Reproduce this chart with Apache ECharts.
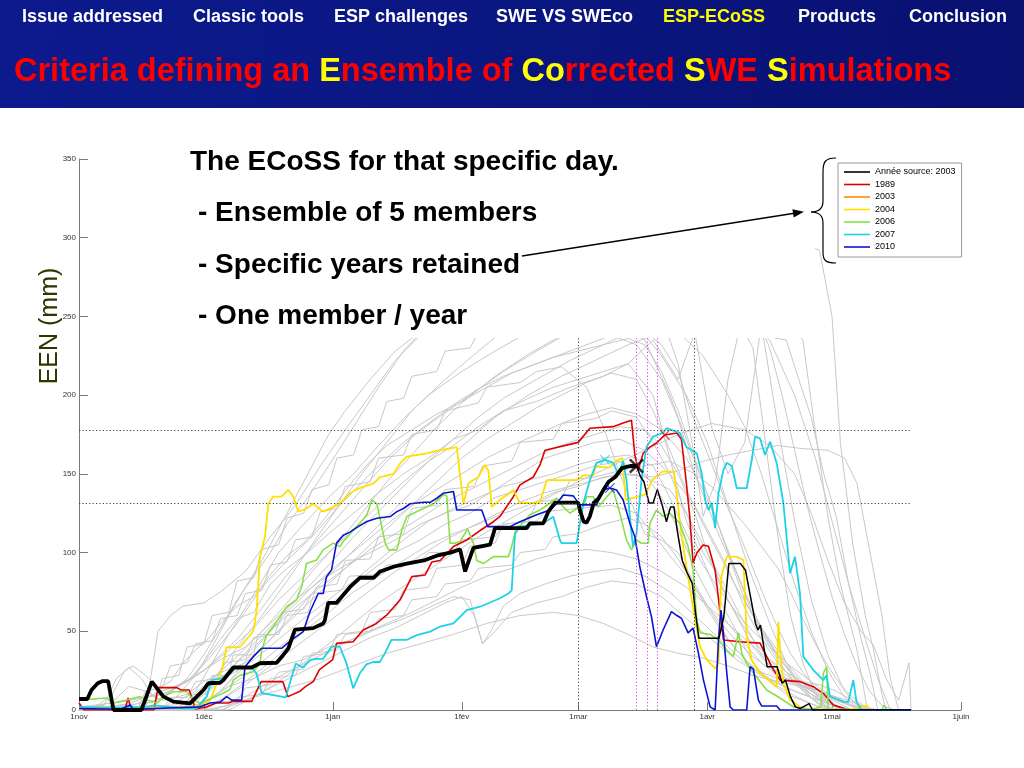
<!DOCTYPE html>
<html>
<head>
<meta charset="utf-8">
<script src="https://cdn.jsdelivr.net/npm/echarts@6/dist/echarts.min.js"></script>
<style>html,body{margin:0;padding:0;background:#fff;}#c{width:1024px;height:768px;}</style>
</head>
<body>
<div id="c"></div>
<script>
// ---------- DATA ----------
const monthLabels = ['1nov','1déc','1jan','1fév','1mar','1avr','1mai','1juin'];
const monthDays = [0,30,61,92,120,151,181,212];   // day index from 1 Nov
const yTicks = [0,50,100,150,200,250,300,350];
const legendNames = ['Année source: 2003','1989','2003','2004','2006','2007','2010'];
const thresholdHigh = 178;
const thresholdLow = 131.5;
const blackVLines = [120,148];
const magentaVLines = [134,136.5,139];

// source year 2003 (thick until forecast day, thin after)
const source2003Before = [[0,7],[2,7],[3,12.7],[4.5,17],[5.7,18.4],[7,18.4],[8.3,0],[15,0],[17.5,18],[20.3,8.5],[22.7,5.3],[26.7,4.2],[28.3,8.5],[29.9,12.7],[31.1,17],[33.9,17.3],[34.7,19],[35.9,23],[37.1,27],[41.5,27],[43.5,29.7],[47.5,30],[49.1,35],[50.3,39],[51.9,51],[56.3,52],[58.7,55],[59.1,57],[59.9,68],[61.9,68],[63.5,73],[65.1,78],[67.5,84],[70.8,84],[72.4,88],[75.6,91],[78.8,93],[82.9,95],[86,98],[89.2,100],[91.6,102],[92.8,88],[94.8,103],[98.8,105],[100,115.5],[107.6,115.5],[108.4,118.6],[111.6,118.6],[112.8,126],[114.4,131.7],[120,131.7],[120.4,127],[121.3,119.6],[122,119],[122.8,123],[123.7,131.5],[124.9,134.5],[126.1,140],[127.3,145],[128.9,148],[130.5,153.7],[132.5,155],[134,155]];
const source2003After = [[134,155],[135,148],[135.8,145],[137,131.5],[138,131.5],[139,140],[140.2,130],[141.2,119.6],[142.2,129],[143,129],[143.8,114],[145,95],[146.2,87],[147.4,80.6],[148.2,61.5],[149,45.5],[153.8,45.5],[155,59.4],[156.2,93],[159,93],[160.2,88.8],[161.4,72],[162.6,55],[163.2,50.8],[163.8,54],[164.6,40],[165.4,27.5],[167.8,27.5],[169,17],[169.8,19],[171,8.5],[172.2,2],[173.4,1],[175.5,4],[176.3,0],[200,0]];
const y1989 = [[0,4.4],[1.2,0],[11,0],[11.8,7.6],[12.6,0],[18,0],[19,14.2],[23.5,14.2],[24.5,12.7],[26.5,12.7],[28,0.6],[30.7,2],[33,4.4],[35.9,4.4],[37,5.5],[41.5,5.5],[43.8,18],[49,18],[50.2,8.5],[53,11.7],[54.5,15],[56.3,18],[57.8,25.6],[61,32],[61.9,42.3],[65.9,43.4],[68.3,50.8],[71.5,55],[74,60.4],[77.2,70],[80,84.7],[83.2,85.8],[84.8,94],[86.8,95],[90,103.8],[93.2,108],[96.4,114],[99.6,119.6],[101.2,123],[104.4,135.5],[106,143],[109.2,148],[110.8,155.7],[112,165],[120,170],[122.8,179],[128.4,180],[130.8,182.3],[132.8,184],[133.6,162],[134.4,152.5],[135.6,163],[137.2,167],[138.8,169.6],[140.8,174.7],[143.7,176],[144.8,172],[146,144],[146.8,122.8],[147.6,93.4],[148.5,99.7],[150,104.8],[151.3,104],[152.9,89],[154.1,61.6],[154.9,44.5],[158.9,43.4],[163.7,42.5],[166.5,27.5],[168.5,19],[173.3,18],[176.5,14.8],[178.9,10.6],[181.3,3.2],[184.5,0.4],[186,0],[200,0]];
const y2003 = [];
const y2004 = [[0,1],[6,2],[12,1],[20,1.5],[27.5,2],[31.5,6],[34.3,25],[35.5,40],[38.7,40],[41.9,50],[42.7,63.5],[43.5,97.5],[44.7,110],[45.5,131],[46.7,135.6],[48.7,135.6],[50.3,139.8],[51.5,135.6],[52.7,126],[54.7,128],[56.3,131],[58.7,126],[61.1,129],[62.7,131],[65.1,137.7],[67.5,141],[70.8,144],[72.4,148],[75.6,150],[77.2,156.8],[78.8,161],[83.6,163],[86.8,165],[90.8,167],[92.4,131],[93.6,144],[96,148],[97.6,155.7],[98.4,152],[99.2,129],[101.2,133.5],[102.8,136.6],[104.4,139.8],[105.6,133.5],[106,131.5],[110.8,131.5],[112.4,146],[119.6,146],[121.2,149],[123.6,149],[124.2,154.6],[127.4,154],[129.4,158.8],[130.6,160],[131.4,133.4],[136.2,137],[137.8,146],[140.2,151.4],[143,151.4],[143.8,133.4],[145,108],[146,91],[147,75],[148.1,57],[149.3,40],[150.9,31.8],[152.9,26.4],[153.7,30],[154.4,85],[155.7,97.4],[158,97.4],[159.7,95.3],[160.5,46.6],[161.7,31.8],[163.7,23.5],[165.3,20],[167.7,14.8],[168.1,56],[168.5,38],[169.3,17],[170.9,6.3],[173.3,2],[175.7,0.4],[186,0.4],[187.7,2],[189.3,3],[190.1,0],[200,0]];
const y2006 = [[0,6.3],[6.6,7.6],[8.2,4.4],[11.4,6.3],[14.7,8.5],[16.5,6.3],[18.7,4.4],[21,9.5],[22.7,11.6],[25.9,11.6],[27.5,6.3],[29.1,4.4],[31.5,7],[34.7,10.8],[36.3,13],[37.1,19],[38.7,22],[41.9,24.3],[43.5,29.6],[43.9,38],[45.1,47.6],[46.7,53],[48.3,59.3],[49.9,65.6],[52.3,70],[53.5,78.3],[54.7,93],[57.1,95.3],[58.7,101.7],[61.1,106],[62.7,103.8],[63.5,107],[66,114.4],[67.5,118.6],[69.2,124],[70.4,133.5],[71.6,131],[73.6,106],[74.4,101.7],[76.4,101.7],[77.6,114.4],[78.8,122.9],[82,127],[85.2,131],[87.6,136.7],[88.4,136],[89.2,106],[90.4,106],[91.6,107],[93.4,115],[94.8,106],[95.6,95],[97.2,93],[99.6,97.4],[103.2,97.4],[104,104],[105.2,116.5],[106,117],[108.4,124],[110.8,127],[113.2,131.5],[114.8,134.6],[116.4,129],[118,125],[119.6,128],[121.2,129],[122,135.5],[123.6,135.5],[124.8,129],[127.6,137.7],[128.4,140],[130,125],[130.8,116.5],[131.6,108],[132.8,101.7],[134,108],[135.2,105.9],[136.8,105.9],[137.2,118.6],[138.8,127],[140.4,123],[142,125],[144.4,118.6],[146.4,103.8],[147.6,89],[148.5,57],[149.3,49],[151.7,48],[153.7,44.5],[155.7,38],[157.3,34],[158.5,49],[159.3,36],[160.5,29.6],[162.1,23.5],[165.3,12.7],[168.5,7.6],[171.7,2],[175.7,0.3],[178.3,2],[178.9,23.3],[179.7,27.5],[180.1,0],[193,0],[193.5,3],[194.2,0],[200,0]];
const y2007 = [[0,2],[7,1.5],[16.3,2],[17.9,3],[21.9,2],[25,1],[28.3,1],[29.9,6.3],[30.7,8.5],[31.9,19],[33.9,20],[36.3,23],[37.9,27.5],[41.5,27],[42.7,23],[43.9,10.8],[44.3,10],[49.7,8],[50.9,19],[52.1,29.6],[53.7,27],[55.7,31.8],[56.9,32.5],[58.7,32.5],[60.7,40.2],[62.7,40.2],[64.3,29.6],[65.9,13.8],[67.5,23.3],[69.1,29],[70.7,30.5],[72.3,30.5],[73.5,36],[75.1,44.5],[78.7,44.5],[81.2,47.6],[84.4,49.8],[86.8,53],[90,55],[93.2,63.5],[96.4,65.6],[101.2,71],[103.2,74],[104,76],[104.8,112],[106,116.5],[111.6,118.6],[114,122.8],[115.6,108],[116,106],[119.6,106],[120,112],[121.2,131.3],[122.8,146],[124.4,157],[126.4,159],[128.4,157],[129.6,150],[130.8,158],[131.6,146],[132.8,112],[133.2,103.8],[134,112],[135.2,146],[136.4,167],[138,173.6],[140.4,176],[141.2,179],[144.4,176],[146,167],[148.5,163],[149.7,150],[150.5,133.4],[151.3,127],[152.1,131.5],[152.9,115.5],[153.7,137.7],[154.9,152.5],[155.7,157],[156.9,155],[158.1,141],[160.5,141],[161.7,158.8],[162.5,173.6],[163.7,172.5],[164.9,162],[166.1,170.5],[167.7,156.8],[169.3,131.5],[170.9,86.9],[172.1,97.4],[173.3,74.1],[174.1,33.9],[176.5,25.4],[178.9,19],[179.7,22],[180.5,8.5],[183.7,5.3],[184.9,5],[186.1,19],[186.9,5],[188.1,0],[200,0]];
const y2010 = [[0,1],[10,0.5],[12.3,3.2],[13,0.5],[29.1,2],[31.5,4.4],[33.9,5],[35.5,8.5],[36.7,6.3],[39.1,6.3],[39.9,27.5],[41.9,33.9],[43.9,39.2],[48.7,39.2],[51.1,44.5],[53.9,49.8],[55.5,62.4],[57.5,74],[58.7,74],[59.5,84.7],[60.7,89],[61.9,106],[63.5,111],[65.1,113],[67.1,116.5],[69.2,119.7],[71.6,121.8],[74.8,122.9],[76.4,126],[78,128],[79.6,131],[82.8,132],[84.5,132],[86,134.5],[87.6,137.7],[90,138.8],[90.8,127],[94,127],[96.8,127],[98.2,116.5],[103.6,116.5],[106,119.6],[110,124],[113.2,127],[114.8,131],[116.4,136.6],[118.8,136],[120.4,130.3],[124.4,130.3],[126,139.8],[127.6,141],[129.2,139.8],[130.8,133.4],[132.4,118.6],[133.6,110],[134.8,91],[136.4,72],[137.6,59.3],[138.8,40.2],[140.4,50.8],[142.4,62.5],[143.7,60],[144.8,58.3],[146.4,49],[147.6,52],[148.9,36],[150.1,19],[151.7,2],[152.9,0],[153.7,44.5],[154.3,63.5],[154.9,49],[155.7,23.5],[156.5,2],[157.3,0],[160.5,0],[161.3,27.5],[162.1,26],[163.3,6.3],[164.1,2.5],[167.7,2.5],[168.5,0],[200,0]];

// historical-year ensemble traces (grey)
const greyTraces = [
 [[0,0],[6,3],[9,20],[12,27],[15,20],[18,8],[22,12],[27,20],[32,35],[38,55],[44,78],[50,95],[56,110],[62,128],[70,150],[78,170],[86,185],[94,200],[102,215],[110,228],[118,240],[126,250],[134,245],[140,225],[146,200],[151,170],[156,130],[161,90],[166,55],[170,30],[174,12],[178,3],[182,0],[200,0]],
 [[0,0],[16,0],[19,50],[22,60],[25,66],[30,68],[34,75],[40,88],[46,110],[52,130],[58,155],[64,178],[70,200],[76,222],[82,238],[90,250],[98,258],[106,262],[116,266],[126,270],[136,268],[144,262],[152,255],[160,250],[166,235],[172,200],[177,160],[181,120],[185,80],[189,45],[192,20],[195,0],[200,0]],
 [[0,2],[10,5],[20,10],[26,18],[30,30],[34,45],[38,58],[42,62],[46,80],[50,90],[55,100],[60,112],[66,125],[72,138],[78,150],[84,160],[90,172],[96,178],[102,190],[110,196],[118,205],[126,212],[132,220],[138,200],[142,160],[146,120],[150,95],[154,70],[158,50],[162,30],[166,18],[170,10],[176,4],[180,0],[200,0]],
 [[0,0],[24,0],[30,5],[36,15],[42,20],[48,28],[54,32],[60,40],[66,45],[72,52],[78,58],[84,65],[90,72],[94,70],[97,42],[100,50],[104,62],[110,68],[116,72],[122,78],[128,82],[134,80],[140,72],[146,58],[152,45],[158,32],[164,22],[170,14],[176,8],[182,2],[186,0],[200,0]],
 [[0,0],[30,0],[36,3],[42,8],[50,14],[58,20],[66,28],[74,36],[82,42],[90,48],[98,55],[106,60],[114,62],[120,60],[126,55],[132,48],[138,40],[144,36],[150,33],[156,28],[162,22],[168,18],[174,15],[180,10],[186,5],[190,0],[200,0]],
 [[0,0],[22,3],[28,12],[32,30],[36,48],[40,65],[44,82],[48,100],[54,118],[60,135],[66,150],[72,168],[78,185],[84,200],[92,215],[100,228],[108,240],[118,250],[128,248],[136,235],[142,200],[147,165],[152,130],[156,100],[160,75],[164,52],[168,35],[172,20],[176,8],[180,0],[200,0]],
 [[0,0],[28,0],[32,8],[36,15],[40,22],[46,35],[52,48],[58,62],[64,75],[70,88],[76,100],[82,108],[88,118],[94,125],[100,135],[106,140],[112,145],[118,150],[124,155],[130,158],[136,150],[140,135],[144,115],[148,90],[152,70],[156,55],[160,42],[164,30],[168,22],[172,16],[176,10],[180,5],[184,0],[200,0]],
 [[0,0],[26,2],[32,18],[38,40],[44,60],[50,82],[56,105],[62,128],[68,150],[74,170],[80,190],[88,210],[96,228],[104,245],[114,260],[124,272],[134,282],[144,290],[154,296],[164,300],[172,298],[178,292],[181,250],[183,170],[186,105],[189,60],[191,38],[193,10],[194,0],[200,0]],
 [[0,0],[30,0],[36,10],[42,22],[48,35],[54,50],[60,62],[66,75],[72,85],[78,95],[84,105],[90,112],[96,118],[102,125],[108,130],[114,138],[120,142],[126,148],[132,150],[138,148],[144,152],[150,158],[156,162],[162,165],[168,168],[174,166],[180,165],[184,160],[187,144],[190,102],[193,60],[195,20],[197,0],[200,0]],
 [[0,0],[20,0],[26,6],[32,20],[38,34],[44,50],[50,68],[56,88],[62,105],[68,125],[74,145],[80,162],[86,180],[92,195],[100,212],[108,226],[116,238],[124,246],[132,252],[140,250],[148,245],[156,240],[164,238],[170,235],[173,210],[176,186],[179,150],[182,123],[185,80],[188,45],[190,25],[192,0],[200,0]],
 [[0,0],[18,5],[24,15],[30,25],[36,38],[42,52],[48,70],[54,85],[60,100],[66,115],[72,130],[78,145],[84,158],[90,168],[96,180],[102,190],[108,198],[114,205],[120,210],[126,215],[132,220],[138,235],[144,210],[148,240],[152,180],[156,150],[160,170],[164,245],[168,180],[172,120],[176,70],[180,35],[184,12],[188,0],[200,0]],
 [[0,0],[12,4],[18,10],[24,16],[28,22],[34,32],[40,40],[46,55],[52,70],[58,82],[64,92],[70,100],[76,108],[82,118],[88,125],[94,130],[100,140],[106,150],[112,160],[118,165],[124,170],[130,172],[136,165],[142,150],[148,130],[152,110],[156,90],[160,65],[164,45],[168,30],[172,18],[176,10],[180,4],[184,0],[200,0]],
 [[0,0],[26,0],[30,4],[34,12],[38,24],[42,38],[46,50],[52,65],[58,78],[64,90],[70,102],[76,112],[82,122],[88,132],[94,140],[100,148],[106,156],[112,164],[118,170],[124,175],[130,180],[136,178],[140,168],[144,150],[148,125],[151,100],[154,80],[158,60],[162,40],[166,28],[170,20],[174,15],[178,12],[182,8],[186,3],[190,0],[200,0]],
 [[0,0],[8,5],[12,15],[16,12],[20,6],[26,10],[30,18],[35,25],[40,30],[45,42],[50,55],[56,70],[62,85],[68,100],[74,115],[80,130],[86,145],[92,160],[98,172],[104,182],[110,192],[116,200],[122,208],[128,214],[134,210],[138,190],[142,165],[146,140],[150,118],[154,98],[158,78],[162,60],[166,45],[170,30],[174,18],[178,9],[182,3],[186,0],[200,0]],
 [[0,0],[32,0],[38,5],[44,15],[50,24],[56,32],[62,40],[68,48],[74,55],[80,62],[86,70],[92,78],[98,85],[104,90],[110,96],[116,100],[122,102],[128,100],[134,96],[140,88],[146,78],[152,64],[158,50],[164,36],[170,24],[176,14],[182,6],[188,0],[200,0]],
 [[0,0],[14,2],[20,8],[26,20],[30,35],[34,52],[38,70],[42,85],[46,100],[50,118],[55,135],[60,155],[66,180],[72,205],[78,228],[84,245],[90,252],[96,256],[104,258],[114,260],[124,262],[134,260],[140,250],[144,220],[148,160],[150,123],[153,145],[156,210],[159,245],[162,230],[165,170],[168,110],[171,60],[174,30],[177,10],[180,0],[200,0]],
 [[0,0],[24,0],[28,6],[32,14],[36,22],[40,28],[44,36],[48,45],[54,58],[60,70],[66,82],[72,95],[78,108],[84,120],[90,128],[96,135],[102,142],[108,146],[114,150],[120,156],[126,160],[132,162],[138,155],[142,135],[146,112],[150,92],[154,76],[158,62],[162,50],[166,40],[170,30],[174,22],[178,14],[182,7],[186,2],[190,0],[200,0]],
 [[0,0],[34,0],[40,6],[46,14],[52,22],[58,30],[64,38],[70,46],[76,52],[82,60],[88,68],[92,72],[95,60],[97,42],[99,50],[102,66],[106,74],[112,80],[118,85],[124,88],[130,90],[136,85],[142,75],[148,60],[154,45],[160,30],[166,20],[172,12],[178,6],[184,0],[200,0]],
 [[0,0],[20,0],[24,10],[28,22],[32,40],[36,60],[40,78],[44,95],[48,115],[52,135],[56,155],[60,175],[64,190],[70,210],[76,228],[82,240],[88,248],[94,252],[100,255],[110,258],[120,258],[130,258],[138,250],[144,240],[150,225],[156,200],[160,180],[164,150],[168,115],[172,80],[176,50],[180,25],[184,8],[188,0],[200,0]],
 [[0,0],[36,0],[42,8],[48,18],[54,30],[60,42],[66,55],[72,68],[80,82],[88,96],[96,110],[104,122],[112,134],[120,145],[128,155],[136,165],[144,175],[152,182],[160,178],[166,168],[172,150],[176,125],[180,95],[184,68],[188,50],[191,41],[194,20],[197,6],[199.5,30],[200,0]],
 [[0,0],[30,0],[34,6],[40,16],[46,28],[52,40],[58,52],[64,64],[70,76],[76,88],[82,98],[88,108],[94,116],[100,124],[106,132],[112,138],[118,142],[124,146],[130,150],[136,148],[142,140],[146,125],[150,105],[154,85],[158,65],[161,50],[164,35],[167,25],[170,20],[174,18],[178,16],[182,12],[186,6],[190,0],[200,0]],
 [[0,0],[10,0],[14,4],[18,10],[22,14],[26,18],[30,25],[34,35],[38,45],[42,58],[46,72],[50,86],[54,98],[58,110],[62,122],[66,134],[70,146],[74,158],[78,168],[82,178],[86,186],[90,194],[96,204],[102,212],[108,218],[114,224],[120,228],[126,232],[132,236],[136,232],[140,215],[144,190],[148,160],[152,130],[156,100],[160,75],[164,52],[168,34],[172,20],[176,10],[180,2],[184,0],[200,0]],
 [[0,0],[28,0],[34,12],[40,28],[46,45],[52,62],[58,80],[64,96],[70,112],[76,128],[82,144],[88,158],[94,172],[100,186],[108,200],[116,212],[124,222],[132,232],[140,240],[148,246],[156,250],[164,250],[170,245],[174,235],[176.5,186],[180,123],[183,80],[187,38],[189.5,0],[200,0]],
 [[0,0],[22,0],[26,5],[30,12],[34,20],[38,30],[42,40],[46,50],[50,62],[56,78],[62,92],[68,105],[74,118],[80,130],[86,140],[92,150],[98,160],[104,168],[110,175],[116,182],[122,188],[128,192],[134,188],[140,178],[146,160],[150,140],[154,115],[158,88],[162,60],[166,40],[170,24],[174,12],[178,4],[182,0],[200,0]],
 [[0,0],[25,0],[27,10],[31,10],[32,22],[36,22],[37,35],[42,35],[43,48],[48,48],[50,60],[55,62],[57,78],[62,80],[64,95],[70,96],[72,110],[78,112],[80,128],[86,130],[88,140],[95,142],[97,155],[104,158],[106,170],[114,172],[116,182],[124,185],[128,190],[134,186],[138,170],[142,150],[146,125],[150,100],[153,88],[156,70],[160,52],[164,38],[168,26],[172,18],[176,12],[180,6],[184,0],[200,0]],
 [[0,0],[20,0],[22,8],[26,8],[28,18],[33,20],[35,30],[40,32],[42,46],[47,48],[49,62],[54,64],[56,74],[63,76],[65,85],[72,86],[74,92],[82,94],[84,100],[90,100],[92,108],[100,110],[102,118],[110,120],[112,126],[120,128],[128,130],[134,125],[138,112],[142,98],[146,85],[150,70],[154,56],[158,44],[162,34],[166,26],[170,20],[174,15],[178,10],[182,5],[186,0],[200,0]],
 [[0,0],[14,0],[16,12],[20,14],[22,28],[26,30],[28,42],[32,44],[34,58],[38,60],[40,74],[44,76],[46,92],[50,94],[52,108],[56,110],[58,126],[62,128],[64,142],[70,145],[72,160],[78,162],[80,175],[86,178],[88,190],[96,195],[98,205],[106,208],[110,215],[116,218],[122,205],[126,180],[130,150],[133,130],[136,112],[140,108],[144,100],[148,80],[152,62],[156,45],[160,32],[164,22],[168,15],[172,9],[176,4],[180,0],[200,0]],
 [[0,0],[30,0],[33,5],[38,6],[40,14],[46,16],[48,24],[54,26],[56,36],[62,38],[64,48],[70,50],[72,58],[78,60],[80,70],[86,72],[88,80],[94,82],[96,90],[104,92],[106,100],[112,102],[114,110],[120,112],[126,118],[132,122],[136,118],[140,110],[144,96],[148,78],[152,60],[155,48],[158,38],[161,30],[164,24],[168,20],[172,17],[176,14],[180,10],[184,5],[188,0],[200,0]],
 [[0,0],[4,2],[8,10],[11,25],[13,28],[16,22],[19,14],[22,18],[25,30],[28,38],[31,45],[34,55],[38,66],[42,72],[46,86],[50,98],[54,106],[58,118],[62,132],[66,146],[70,158],[74,168],[80,178],[86,188],[92,196],[98,205],[104,214],[110,220],[116,226],[122,232],[128,238],[134,232],[140,210],[144,185],[148,150],[151,130],[154,110],[157,92],[160,70],[164,50],[168,34],[172,22],[176,12],[180,5],[184,0],[200,0]],
 [[0,0],[35,0],[38,8],[44,10],[46,20],[52,22],[54,34],[60,36],[62,48],[68,50],[70,62],[76,64],[78,76],[84,78],[86,90],[92,92],[94,104],[100,106],[102,118],[108,120],[110,132],[116,134],[118,146],[124,148],[130,152],[136,155],[142,158],[148,150],[152,142],[156,130],[160,118],[164,104],[168,90],[171,75],[174,58],[177,42],[180,28],[183,16],[186,8],[189,2],[192,0],[200,0]],
 [[0,0],[18,0],[20,20],[24,22],[26,40],[30,42],[32,60],[36,62],[38,82],[42,84],[44,102],[48,105],[50,122],[54,125],[56,140],[60,143],[62,160],[66,162],[68,178],[72,180],[74,196],[78,198],[80,212],[86,215],[88,228],[94,230],[96,240],[110,245],[124,250],[134,245],[140,232],[144,215],[147,190],[150,170],[153,150],[156,128],[159,110],[162,90],[165,70],[168,52],[171,36],[174,24],[177,14],[180,6],[184,0],[200,0]],
 [[0,0],[26,0],[30,10],[36,25],[42,42],[48,58],[54,75],[60,92],[66,110],[72,126],[78,142],[84,158],[90,172],[96,186],[102,198],[110,210],[118,222],[126,232],[134,242],[142,250],[150,256],[158,262],[162,255],[166,230],[169,200],[172,165],[175,130],[178,100],[181,72],[184,48],[187,28],[190,12],[193,3],[196,0],[200,0]]
];

// forecast-day markers (x) : [day, value]
const markSource = [[134,155]];
const mark1989 = [[140.8,174.7]];
const mark2007 = [[126.4,159]];
const mark2010 = [[127.6,141]];

// ---------- STYLE / TEXT ----------
const menuItems = [['Issue addressed',22,'#ffffff'],['Classic tools',193,'#ffffff'],['ESP challenges',334,'#ffffff'],['SWE VS SWEco',496,'#ffffff'],['ESP-ECoSS',663,'#ffff00'],['Products',798,'#ffffff'],['Conclusion',909,'#ffffff']];
const bullets = [['The ECoSS for that specific day.',190,162],['- Ensemble of 5 members',198,213],['- Specific years retained',198,265],['- One member / year',198,316]];
const colors = {src:'#000000', y1989:'#e00000', y2003:'#ff8c00', y2004:'#ffe000', y2006:'#88e04a', y2007:'#1cd2e6', y2010:'#0a14d2', grey:'#c8c8c8'};
const FONT = "'Liberation Sans', Arial, sans-serif";

const chart = echarts.init(document.getElementById('c'), null, {renderer:'canvas'});

const lineS = (name, data, color, width, z) => ({
  type:'line', name, data, symbol:'none', color, z: z||3,
  lineStyle:{color, width}, silent:true, animation:false
});
const dotted = [1.2,2.2];
const xPath = 'path://M0,1.1L1.1,0L5,3.9L8.9,0L10,1.1L6.1,5L10,8.9L8.9,10L5,6.1L1.1,10L0,8.9L3.9,5Z';
const xPathThin = 'path://M0,0.7L0.7,0L5,4.3L9.3,0L10,0.7L5.7,5L10,9.3L9.3,10L5,5.7L0.7,10L0,9.3L4.3,5Z';
const markS = (name, data, color, size, path, z) => ({
  type:'scatter', name, data, symbol:path, symbolSize:size, itemStyle:{color}, z: z||6, silent:true, animation:false
});

const series = [];
greyTraces.forEach((d,i) => series.push(lineS('hist'+i, d, colors.grey, 1, 2)));
series[0].markLine = {
  silent:true, symbol:['none','none'], label:{show:false}, animation:false,
  data: [
    ...blackVLines.map(v => ({xAxis:v, lineStyle:{color:'#444', type:dotted, width:1}})),
    ...magentaVLines.map(v => ({xAxis:v, lineStyle:{color:'#e040e0', type:dotted, width:1}})),
    [{coord:[0,thresholdHigh], lineStyle:{color:'#444', type:dotted, width:1}},{coord:[200,thresholdHigh]}],
    [{coord:[0,thresholdLow], lineStyle:{color:'#444', type:dotted, width:1}},{coord:[200,thresholdLow]}]
  ]
};
series.push(lineS('1989', y1989, colors.y1989, 1.6, 3));
series.push(lineS('2003', y2003, colors.y2003, 1.6, 3));
series.push(lineS('2004', y2004, colors.y2004, 1.8, 3));
series.push(lineS('2006', y2006, colors.y2006, 1.6, 3));
series.push(lineS('2007', y2007, colors.y2007, 1.8, 3));
series.push(lineS('2010', y2010, colors.y2010, 1.6, 3));
series.push(lineS('Année source: 2003', source2003Before, colors.src, 3.8, 4));
series.push(lineS('Année source: 2003', source2003After, colors.src, 1.5, 4));
series.push(markS('1989', mark1989, colors.y1989, 10, xPathThin));
series.push(markS('2007', mark2007, colors.y2007, 10, xPathThin));
series.push(markS('2010', mark2010, colors.y2010, 10, xPathThin));
series.push(markS('Année source: 2003', markSource, colors.src, 15, xPath, 7));

const braceStyle = {stroke:'#000', lineWidth:1.2, fill:null};
const graphics = [
  {type:'rect', shape:{x:0,y:0,width:1024,height:108}, z:0, silent:true,
   style:{fill:{type:'linear',x:0,y:0,x2:1,y2:1,colorStops:[{offset:0,color:'#0c1a8e'},{offset:0.5,color:'#0a1680'},{offset:1,color:'#081070'}]}}},
  // white panel behind the annotation text (hides the upper part of the plot)
  {type:'rect', shape:{x:90,y:128,width:725,height:210}, z:100, silent:true, style:{fill:'#ffffff'}},
  ...menuItems.map(m => ({type:'text', x:m[1], y:17, z:110, silent:true,
     style:{text:m[0], fill:m[2], font:"bold 18px "+FONT, textVerticalAlign:'middle'}})),
  {type:'text', x:14, y:72, z:110, silent:true, style:{
     text:'{r|Criteria defining an }{y|E}{r|nsemble of }{y|Co}{r|rrected }{y|S}{r|WE }{y|S}{r|imulations}',
     textVerticalAlign:'middle',
     rich:{r:{fill:'#ff0000', font:"bold 32.5px "+FONT}, y:{fill:'#ffff00', font:"bold 32.5px "+FONT}}}},
  ...bullets.map(b => ({type:'text', x:b[1], y:b[2], z:110, silent:true,
     style:{text:b[0], fill:'#000', font:"bold 28px "+FONT, textVerticalAlign:'middle'}})),
  {type:'text', x:50, y:326, rotation:Math.PI/2, z:110, silent:true,
   style:{text:'EEN (mm)', fill:'#333300', font:"25px "+FONT, textAlign:'center', textVerticalAlign:'middle'}},
  {type:'line', z:110, silent:true, shape:{x1:522,y1:256,x2:796,y2:213}, style:{stroke:'#000', lineWidth:1.3}},
  {type:'polygon', z:110, silent:true, shape:{points:[[804,211.7],[793.7,217.4],[792.4,209.2]]}, style:{fill:'#000'}},
  {type:'bezierCurve', z:110, silent:true, shape:{x1:836,y1:158,cpx1:825,cpy1:158,cpx2:823,cpy2:162,x2:823,y2:172}, style:braceStyle},
  {type:'line', z:110, silent:true, shape:{x1:823,y1:172,x2:823,y2:201}, style:braceStyle},
  {type:'bezierCurve', z:110, silent:true, shape:{x1:823,y1:201,cpx1:823,cpy1:208,cpx2:819,cpy2:212,x2:811,y2:212}, style:braceStyle},
  {type:'bezierCurve', z:110, silent:true, shape:{x1:811,y1:212,cpx1:819,cpy1:212,cpx2:823,cpy2:216,x2:823,y2:223}, style:braceStyle},
  {type:'line', z:110, silent:true, shape:{x1:823,y1:223,x2:823,y2:252}, style:braceStyle},
  {type:'bezierCurve', z:110, silent:true, shape:{x1:823,y1:252,cpx1:823,cpy1:260,cpx2:825,cpy2:263,x2:836,y2:263}, style:braceStyle}
];

chart.setOption({
  animation:false,
  backgroundColor:'#ffffff',
  textStyle:{fontFamily:FONT},
  grid:{left:79, right:63, top:159, bottom:58, containLabel:false},
  legend:{
    data:legendNames, orient:'vertical', left:838, top:163, icon:'rect',
    itemWidth:26, itemHeight:1.6, itemGap:2.5, selectedMode:false,
    padding:[4,6,5,6], borderColor:'#9a9a9a', borderWidth:1, backgroundColor:'#fff',
    textStyle:{fontSize:9, color:'#000', lineHeight:10, fontFamily:FONT}
  },
  xAxis:{
    type:'value', min:0, max:212,
    axisLine:{lineStyle:{color:'#7a7a7a', width:1}},
    axisTick:{inside:true, length:8, customValues:monthDays, lineStyle:{color:'#7a7a7a'}},
    axisLabel:{customValues:monthDays, fontSize:8, color:'#333', margin:3,
      formatter:v => { const i = monthDays.indexOf(v); return i>=0 ? monthLabels[i] : ''; }},
    splitLine:{show:false}
  },
  yAxis:{
    type:'value', min:yTicks[0], max:yTicks[yTicks.length-1], interval:50,
    axisLine:{show:true, lineStyle:{color:'#7a7a7a', width:1}},
    axisTick:{show:true, inside:true, length:9, lineStyle:{color:'#7a7a7a'}},
    axisLabel:{fontSize:8, color:'#333', margin:3},
    splitLine:{show:false}
  },
  series,
  graphic:graphics
});
</script>
</body>
</html>
